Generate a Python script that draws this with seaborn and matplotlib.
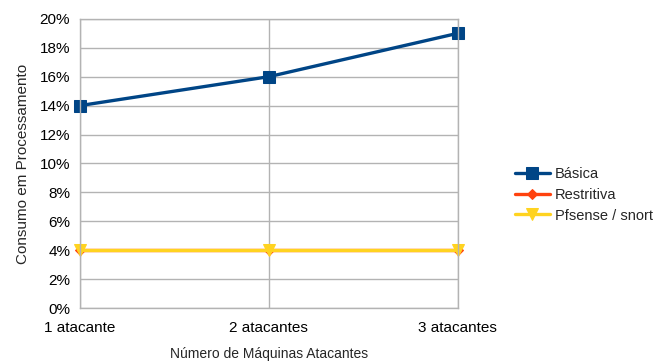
import pandas as pd
import numpy as np
import matplotlib
matplotlib.use("Agg")
import matplotlib.pyplot as plt
import seaborn as sb
from matplotlib.ticker import FuncFormatter

# dados
categorias = ["1 atacante", "2 atacantes", "3 atacantes"]
basica = [14, 16, 19]
restritiva = [4, 4, 4]
pfsense = [4, 4, 4]

series = ["Básica", "Restritiva", "Pfsense / snort"]
cores = ["#004586", "#ff420e", "#ffd320"]
marcadores = ["s", "D", "v"]
tamanhos = [8, 5, 8]

data = pd.DataFrame({
    "maquinas": categorias * 3,
    "consumo": basica + restritiva + pfsense,
    "config": [s for s in series for _ in categorias],
})

sb.set_style("white")
plt.rcParams["font.family"] = ["Liberation Sans", "DejaVu Sans"]

fig = plt.figure(figsize=(6.55, 3.62), dpi=100)
ax = fig.add_axes([0.122, 0.149, 0.577, 0.799])

for nome, cor, mk, ms in zip(series, cores, marcadores, tamanhos):
    d = data[data.config == nome]
    sb.lineplot(data=d, x="maquinas", y="consumo", color=cor, marker=mk,
                markersize=ms, markeredgecolor=cor, linewidth=2.4,
                label=nome, ax=ax, sort=False, clip_on=False)

ax.set_xlim(0, 2)
ax.set_ylim(0, 20)
ax.set_yticks(np.arange(0, 21, 2))
ax.yaxis.set_major_formatter(FuncFormatter(lambda v, p: f"{int(v)}%"))
ax.grid(True, color="#b3b3b3", linewidth=1)
ax.set_axisbelow(True)
for s in ax.spines.values():
    s.set_color("#b3b3b3")
    s.set_linewidth(1)
ax.tick_params(axis="both", direction="out", length=5, color="#b3b3b3",
               labelsize=11, labelcolor="#000000", pad=2)
ax.tick_params(axis="x", pad=4)

ax.set_xlabel("Número de Máquinas Atacantes", fontsize=10, labelpad=9)
ax.set_ylabel("Consumo em Processamento", fontsize=11, labelpad=7)

leg = ax.legend(loc="center left", bbox_to_anchor=(1.116, 0.391), frameon=False,
                fontsize=10.5, handlelength=2.4, handletextpad=0.35, labelspacing=0.45)

plt.savefig("out.png", dpi=100)
